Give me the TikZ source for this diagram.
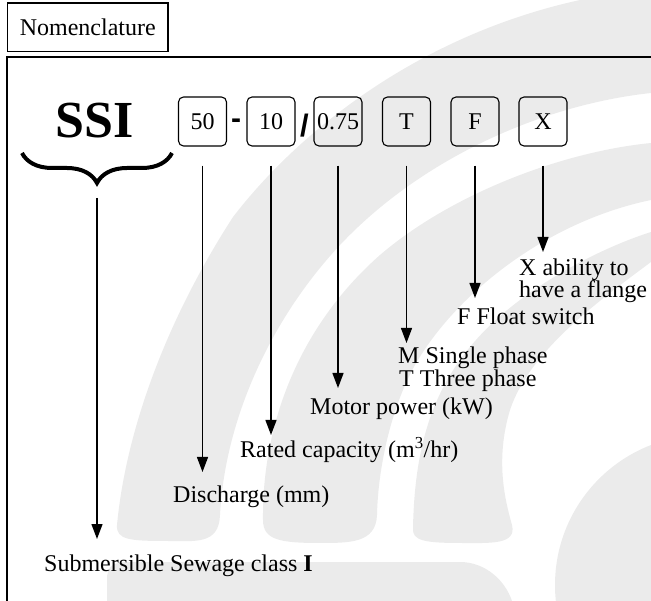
\documentclass[tikz,border=0pt]{standalone}
\usepackage{fontspec}
\setmainfont{Liberation Serif}
\newfontfamily\symsans{Liberation Sans}
\usetikzlibrary{arrows.meta,decorations.pathreplacing}
\definecolor{wm}{RGB}{235,235,235}
\begin{document}
\begin{tikzpicture}[x=1pt,y=-1pt,
  lbl/.style={font=\fontsize{24}{26}\selectfont, inner sep=0pt, anchor=base west},
  codebox/.style={draw, rounded corners=5pt, line width=1.1pt, minimum width=48pt, minimum height=49pt, inner sep=0pt, font=\fontsize{24}{26}\selectfont},
  arr/.style={line width=1.3pt, -{Triangle[length=15pt,width=11pt]}},
  frame/.style={line width=1.6pt},
]
\useasboundingbox (0,0) rectangle (651,601);
% watermark
\begin{scope}
\clip (0,0) rectangle (651,601);
\fill[wm] (117,525) .. controls (125,440) and (160,330) .. (233,217) .. controls (300,130) and (420,35) .. (580,0) -- (651,0) -- (651,93) .. controls (540,105) and (420,160) .. (340,245) .. controls (270,320) and (225,420) .. (220,515) .. controls (219,545) and (195,541) .. (168,541) .. controls (130,541) and (116,540) .. (117,525) -- cycle;
\fill[wm] (263,520) .. controls (262,430) and (295,330) .. (380,255) .. controls (450,195) and (560,152) .. (651,143) -- (651,200) .. controls (545,222) and (455,295) .. (415,365) .. controls (390,410) and (378,470) .. (377,515) .. controls (376,543) and (350,543) .. (320,543) .. controls (280,543) and (263,540) .. (263,520) -- cycle;
\fill[wm] (413,528) .. controls (415,430) and (440,360) .. (520,300) .. controls (560,270) and (610,245) .. (651,232) -- (651,262) .. controls (600,300) and (530,350) .. (510,410) .. controls (495,460) and (505,500) .. (512,525) .. controls (517,545) and (490,543) .. (462,543) .. controls (425,543) and (412,541) .. (413,528) -- cycle;
\fill[wm] (107,601) -- (107,580) .. controls (107,566) and (112,562) .. (130,562) -- (460,562) .. controls (485,562) and (505,580) .. (512,601) -- cycle;
\fill[wm] (705,585) circle (150pt);
\end{scope}
% frames
\node[draw, frame, fill=white, minimum width=160.5pt, minimum height=48.4pt, inner sep=0pt, font=\fontsize{24}{26}\selectfont] (nom) at (87.75,27.5) {Nomenclature};
\draw[frame] (7,601) -- (7,57) -- (651,57);
% code line
\node[font=\fontsize{52}{52}\selectfont\bfseries, inner sep=0pt, anchor=base] (ssi) at (95,138) {SSI};
\node[codebox] (b50) at (202.5,121.5) {50};
\node[codebox] (b10) at (271,121.5) {10};
\node[codebox] (b075) at (338,121.5) {0.75};
\node[codebox] (bT) at (406.5,121.5) {T};
\node[codebox] (bF) at (475,121.5) {F};
\node[codebox] (bX) at (543,121.5) {X};
\node[font=\symsans\fontsize{30}{30}\selectfont\bfseries, inner sep=0pt, anchor=base] (dash) at (236,129) {-};
\node[font=\symsans\fontsize{31}{31}\selectfont\bfseries, inner sep=0pt, anchor=base] (slash) at (304.5,137) {/};
% brace
\draw[decorate, decoration={brace, amplitude=30pt}, line width=4pt] (172,153) -- (22,153);
\coordinate (bt) at (97,198);
% labels
\node[lbl] (lX1) at (519,276) {X ability to};
\node[lbl] (lX2) at (519,298) {have a flange};
\node[lbl] (lF) at (457,325) {F Float switch};
\node[lbl] (lM1) at (398,364) {M Single phase};
\node[lbl] (lM2) at (399,387) {T Three phase};
\node[lbl] (lMot) at (310,415) {Motor power (kW)};
\node[lbl] (lRat) at (240,458) {Rated capacity (m\textsuperscript{3}/hr)};
\node[lbl] (lDis) at (173,503) {Discharge (mm)};
\node[lbl] (lSub) at (44,571) {Submersible Sewage class \textbf{I}};
% arrow tips
\coordinate (tX) at (543,252);
\coordinate (tF) at (475,298);
\coordinate (tT) at (406.5,343);
\coordinate (t075) at (338,388);
\coordinate (t10) at (271,435);
\coordinate (t50) at (202.5,472);
\coordinate (tSSI) at (97,539);
% arrows
\draw[arr] (bX.south) ++(0,19) -- (tX);
\draw[arr] (bF.south) ++(0,19) -- (tF);
\draw[arr] (bT.south) ++(0,19) -- (tT);
\draw[arr] (b075.south) ++(0,19) -- (t075);
\draw[arr] (b10.south) ++(0,19) -- (t10);
\draw[arr] (b50.south) ++(0,19) -- (t50);
\draw[arr] (bt) -- (tSSI);
\end{tikzpicture}
\end{document}
